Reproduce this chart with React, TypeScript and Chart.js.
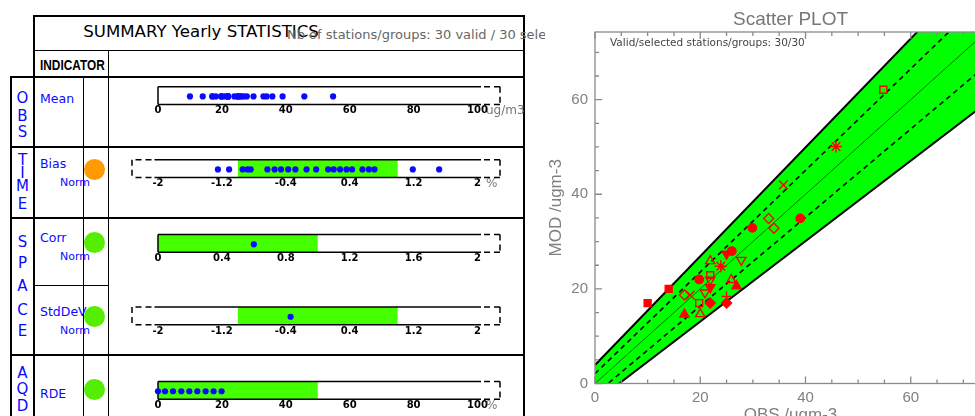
import React, { useEffect, useRef } from "react";
import { Chart, registerables } from "chart.js";

Chart.register(...registerables);

// ---------------- DATA ----------------
// Scatter: station yearly means (observed vs modelled)
const obsValues = [10, 14, 17, 18.1, 17, 19.8, 19.8, 20, 21.9, 21.9, 21.9, 21.9, 20.9, 21.9, 23.9, 25, 26, 25.9, 26.9, 25, 25, 27.8, 29.9, 33, 34, 39, 35.8, 45.8, 54.8];
const modValues = [17, 20, 18.7, 18.7, 14.6, 22, 17, 14.7, 25.9, 22.9, 21.9, 20.3, 19.2, 17, 24.8, 27.4, 28, 21.9, 20.6, 18.4, 17, 26.1, 32.9, 34.9, 32.8, 34.9, 42, 50.1, 62.1];
const markerShapes = ["rect", "rect", "rectRot", "crossRot", "triangle", "circle", "rect", "triangle", "triangle", "rect", "triangleDown", "triangleDown", "triangleDown", "rectRot", "star", "triangleDown", "circle", "triangle", "triangle", "cross", "rectRot", "triangleDown", "circle", "rectRot", "rectRot", "circle", "crossRot", "star", "rect"];
const markerFilled = [1, 1, 0, 0, 1, 1, 0, 0, 0, 0, 0, 1, 0, 1, 0, 1, 1, 0, 1, 0, 1, 0, 1, 0, 0, 1, 0, 0, 0];

// Target bands of the scatter plot (end points of the straight limits)
const bandX = [0, 80];
const outerUpperY = [3.9, 95.9];
const outerLowerY = [-3.9, 64.1];
const innerUpperY = [2.1, 88.0];
const innerLowerY = [-2.3, 72.5];
const identityY = [0, 80];

const scatterMajorTicks = [0, 20, 40, 60];
const scatterMajorLabels = ["0", "20", "40", "60"];

// Summary statistics rows
const meanTickValues = [0, 20, 40, 60, 80, 100];
const meanTickLabels = ["0", "20", "40", "60", "80", "100"];
const normTickValues = [-2, -1.2, -0.4, 0.4, 1.2, 2];
const normTickLabels = ["-2", "-1.2", "-0.4", "0.4", "1.2", "2"];
const corrTickValues = [0, 0.4, 0.8, 1.2, 1.6, 2];
const corrTickLabels = ["0", "0.4", "0.8", "1.2", "1.6", "2"];
const rdeTickValues = [0, 20, 40, 60, 80, 100];
const rdeTickLabels = ["0", "20", "40", "60", "80", "100"];

const biasNormValues = [-1.25, -1.11, -0.94, -0.88, -0.84, -0.63, -0.54, -0.46, -0.37, -0.28, -0.14, -0.02, 0.13, 0.2, 0.28, 0.36, 0.43, 0.56, 0.64, 0.71, 1.19, 1.52];
const corrNormValues = [0.6];
const stdDevNormValues = [-0.34];
const rdeValues = [0, 2.2, 4.7, 7.3, 9.8, 12.3, 14.9, 17.4, 19.9];

const biasTarget = [-1, 1];
const corrTarget = [0, 1];
const stdDevTarget = [-1, 1];
const rdeTarget = [0, 50];

// ---------------- STYLE ----------------
const FONT = "DejaVu Sans";
const BLUE = "#0a0aff";
const BAR_GREEN = "#44ff00";
const CIRCLE_GREEN = "#55ee00";
const ORANGE = "#ff9a00";
const BAND_GREEN = "#00ff00";
const RED = "#ff0000";
const AXIS_COLOR = "#8a8a8a";
const TEXT_GREY = "#808080";

const MINI_LEFT = 110;
const MINI_W = 420;
const MINI_H = 42;
const AXIS_LEFT = 158;
const AXIS_RIGHT = 477.5;
const BOX_H = 17.7;
const DOT_Y = 0.45;

const ROWS = [
  { key: "mean", boxTop: 86.7, min: 0, max: 100, tickValues: meanTickValues, tickLabels: meanTickLabels, values: obsValues, band: null, leftDashed: false, unit: "ug/m3" },
  { key: "bias", boxTop: 159.7, min: -2, max: 2, tickValues: normTickValues, tickLabels: normTickLabels, values: biasNormValues, band: biasTarget, leftDashed: true, unit: "%" },
  { key: "corr", boxTop: 234.6, min: 0, max: 2, tickValues: corrTickValues, tickLabels: corrTickLabels, values: corrNormValues, band: corrTarget, leftDashed: false, unit: "" },
  { key: "std", boxTop: 307, min: -2, max: 2, tickValues: normTickValues, tickLabels: normTickLabels, values: stdDevNormValues, band: stdDevTarget, leftDashed: true, unit: "" },
  { key: "rde", boxTop: 381.5, min: 0, max: 100, tickValues: rdeTickValues, tickLabels: rdeTickLabels, values: rdeValues, band: rdeTarget, leftDashed: false, unit: "%" },
];

const summaryBoxPlugin = {
  id: "summaryBox",
  beforeDatasetsDraw(chart: any, _args: any, opts: any) {
    const { ctx, chartArea: a } = chart;
    const x = chart.scales.x;
    const px = (v: number) => x.getPixelForValue(v);
    const x0 = px(x.min);
    const x1 = px(x.max);
    ctx.save();
    if (opts.band) {
      const b0 = px(opts.band[0]);
      const b1 = px(opts.band[1]);
      ctx.fillStyle = BAR_GREEN;
      ctx.fillRect(b0, a.top, b1 - b0, a.bottom - a.top);
    }
    ctx.strokeStyle = "#000";
    ctx.lineWidth = 1.5;
    const seg = (xa: number, ya: number, xb: number, yb: number) => {
      ctx.beginPath();
      ctx.moveTo(xa, ya);
      ctx.lineTo(xb, yb);
      ctx.stroke();
    };
    const sL = opts.leftDashed ? x0 - 3.5 : x0;
    const sR = x1 + 3.5;
    const dR = x1 + 22.5;
    const dL = x0 - 26;
    ctx.setLineDash([]);
    seg(sL, a.top, sR, a.top);
    seg(sL, a.bottom, sR, a.bottom);
    if (!opts.leftDashed) seg(x0, a.top, x0, a.bottom);
    ctx.setLineDash([6, 4]);
    ctx.lineDashOffset = 7;
    seg(sR, a.top, dR, a.top);
    seg(sR, a.bottom, dR, a.bottom);
    if (opts.leftDashed) {
      seg(sL, a.top, dL, a.top);
      seg(sL, a.bottom, dL, a.bottom);
    }
    ctx.lineDashOffset = 0;
    seg(dR, a.top, dR, a.bottom);
    if (opts.leftDashed) seg(dL, a.top, dL, a.bottom);
    ctx.restore();
  },
  afterDraw(chart: any, _args: any, opts: any) {
    if (!opts.unit) return;
    const { ctx, chartArea: a } = chart;
    const x = chart.scales.x;
    ctx.save();
    ctx.fillStyle = "#777";
    ctx.font = `12px "${FONT}"`;
    ctx.textBaseline = "middle";
    ctx.fillText(opts.unit, x.getPixelForValue(x.max) + 8.5, a.bottom + 6.3);
    ctx.restore();
  },
};

function MiniBar({ row }: { row: any }) {
  const ref = useRef<HTMLCanvasElement>(null);
  const canvasTop = Math.floor(row.boxTop) - 6;
  const padTop = row.boxTop - canvasTop;
  useEffect(() => {
    const chart = new Chart(ref.current as HTMLCanvasElement, {
      type: "scatter",
      data: {
        datasets: [
          {
            data: row.values.map((v: number) => ({ x: v, y: DOT_Y })),
            pointRadius: 3.1,
            pointBackgroundColor: BLUE,
            pointBorderWidth: 0,
            clip: false,
          } as any,
        ],
      },
      options: {
        responsive: false,
        animation: false,
        devicePixelRatio: 1,
        events: [],
        layout: { padding: { left: AXIS_LEFT - MINI_LEFT, right: MINI_LEFT + MINI_W - AXIS_RIGHT, top: padTop, bottom: 0 } },
        plugins: {
          legend: { display: false },
          tooltip: { enabled: false },
          summaryBox: { band: row.band, leftDashed: row.leftDashed, unit: row.unit },
        } as any,
        scales: {
          x: {
            type: "linear",
            min: row.min,
            max: row.max,
            grid: { display: false, drawTicks: false },
            border: { display: false },
            afterBuildTicks: (s: any) => {
              s.ticks = row.tickValues.map((v: number) => ({ value: v }));
            },
            afterFit: (s: any) => {
              s.height = MINI_H - padTop - BOX_H;
              s.paddingLeft = 0;
              s.paddingRight = 0;
            },
            ticks: {
              autoSkip: false,
              maxRotation: 0,
              minRotation: 0,
              padding: 0.5,
              color: "#000",
              font: { family: FONT, size: 10, weight: "bold" },
              callback: (_v: any, i: number) => row.tickLabels[i],
            },
          },
          y: { type: "linear", display: false, min: 0, max: 1 },
        },
      } as any,
      plugins: [summaryBoxPlugin as any],
    });
    return () => chart.destroy();
  }, []);
  return (
    <canvas
      ref={ref}
      width={MINI_W}
      height={MINI_H}
      style={{ position: "absolute", left: MINI_LEFT, top: canvasTop, width: MINI_W, height: MINI_H }}
    />
  );
}

const T = ({ x, y, size, color = "#000", family = FONT, weight = "normal", center = false, scaleX = 1, children }: any) => (
  <div
    style={{
      position: "absolute",
      left: x,
      top: y - 0.485 * size,
      fontSize: size,
      lineHeight: `${size}px`,
      fontFamily: family,
      fontWeight: weight,
      color,
      whiteSpace: "nowrap",
      transform: center ? "translateX(-50%)" : `scaleX(${scaleX})`,
      transformOrigin: "left center",
    }}
  >
    {children}
  </div>
);

const H_LINES = [
  [16, 34, 524],
  [50.5, 34, 524],
  [77, 11, 524],
  [147, 11, 524],
  [218, 11, 524],
  [285.5, 34, 108.3],
  [355, 11, 524],
];
const V_LINES = [
  [11, 77, 416],
  [34, 16, 416],
  [83.3, 77, 416],
  [108.3, 50.5, 416],
  [524, 16, 416],
];
const LW = 1.6;

const GROUP_LETTERS = [
  ["O", 98.5], ["B", 116], ["S", 132],
  ["T", 160], ["I", 173], ["M", 186.5], ["E", 204.5],
  ["S", 242], ["P", 263], ["A", 286], ["C", 310], ["E", 331],
  ["A", 373], ["Q", 389.5], ["D", 406],
];

const ROW_LABELS = [
  ["Mean", 99.3], ["Bias", 164.5], ["Corr", 238.5], ["StdDeV", 312.5], ["RDE", 394.3],
];
const NORM_LABELS = [182.5, 256.5, 330.8];
const CIRCLES = [
  [169.5, ORANGE], [242.3, CIRCLE_GREEN], [316, CIRCLE_GREEN], [389.5, CIRCLE_GREEN],
];

function Summary() {
  return (
    <div style={{ position: "absolute", left: 0, top: 0, width: 545, height: 416, overflow: "hidden" }}>
      {H_LINES.map(([y, x0, x1], i) => (
        <div key={"h" + i} style={{ position: "absolute", left: x0 - LW / 2, top: y - LW / 2, width: x1 - x0 + LW, height: LW, background: "#000" }} />
      ))}
      {V_LINES.map(([x, y0, y1], i) => (
        <div key={"v" + i} style={{ position: "absolute", left: x - LW / 2, top: y0 - LW / 2, width: LW, height: y1 - y0 + LW, background: "#000" }} />
      ))}
      <T x={83.3} y={31.8} size={16.6}>SUMMARY Yearly STATISTICS</T>
      <T x={287} y={34} size={13} color="#666">Nb of stations/groups: 30 valid / 30 selected</T>
      <T x={39.5} y={64.2} size={15} weight="bold" family="Liberation Sans" scaleX={0.79}>INDICATOR</T>
      {GROUP_LETTERS.map(([ch, y], i) => (
        <T key={"g" + i} x={22.5} y={y} size={15} color={BLUE} center>{ch}</T>
      ))}
      {ROW_LABELS.map(([txt, y], i) => (
        <T key={"r" + i} x={40} y={y} size={12.5} color={BLUE}>{txt}</T>
      ))}
      {NORM_LABELS.map((y, i) => (
        <T key={"n" + i} x={60} y={y} size={11} color={BLUE}>Norm</T>
      ))}
      {CIRCLES.map(([y, c], i) => (
        <div key={"c" + i} style={{ position: "absolute", left: 94 - 10.5, top: (y as number) - 10.5, width: 21, height: 21, borderRadius: "50%", background: c as string }} />
      ))}
      {ROWS.map((row) => (
        <MiniBar key={row.key} row={row} />
      ))}
    </div>
  );
}

const RADIUS: Record<string, number> = { rect: 4.9, rectRot: 5, circle: 4.2, triangle: 5.3, triangleDown: 5.3, star: 6, crossRot: 6.2, cross: 5 };
const NOTE = "Valid/selected stations/groups: 30/30";

const axisFramePlugin = {
  id: "axisFrame",
  afterDraw(chart: any) {
    const { ctx, chartArea: a } = chart;
    const { x, y } = chart.scales;
    ctx.save();
    ctx.strokeStyle = AXIS_COLOR;
    ctx.lineWidth = 1.3;
    ctx.strokeRect(a.left, a.top, a.right - a.left, a.bottom - a.top);
    ctx.beginPath();
    x.ticks.forEach((t: any) => {
      const p = x.getPixelForValue(t.value);
      const len = scatterMajorTicks.includes(t.value) ? 7 : 4;
      ctx.moveTo(p, a.bottom);
      ctx.lineTo(p, a.bottom - len);
      ctx.moveTo(p, a.top);
      ctx.lineTo(p, a.top + len);
    });
    y.ticks.forEach((t: any) => {
      const p = y.getPixelForValue(t.value);
      const len = scatterMajorTicks.includes(t.value) ? 7 : 4;
      ctx.moveTo(a.left, p);
      ctx.lineTo(a.left + len, p);
      ctx.moveTo(a.right, p);
      ctx.lineTo(a.right - len, p);
    });
    ctx.stroke();
    ctx.fillStyle = "#444";
    ctx.font = `10.5px "${FONT}"`;
    ctx.textBaseline = "middle";
    ctx.fillText(NOTE, a.left + 15, a.top + 11.5);
    ctx.restore();
  },
};

function ScatterPlot() {
  const ref = useRef<HTMLCanvasElement>(null);
  useEffect(() => {
    const points = obsValues.map((o, i) => ({ x: o, y: modValues[i] }));
    const lineData = (ys: number[]) => bandX.map((x, i) => ({ x, y: ys[i] }));
    const labelFor = (v: number) => {
      const i = scatterMajorTicks.indexOf(v);
      return i >= 0 ? scatterMajorLabels[i] : "";
    };
    const chart = new Chart(ref.current as HTMLCanvasElement, {
      type: "scatter",
      data: {
        datasets: [
          {
            data: points,
            pointStyle: markerShapes.map((s) => (s === "triangleDown" ? "triangle" : s)),
            pointRotation: markerShapes.map((s) => (s === "triangleDown" ? 180 : 0)),
            pointRadius: markerShapes.map((s) => RADIUS[s]),
            pointBackgroundColor: markerFilled.map((f) => (f ? RED : "rgba(0,0,0,0)")),
            pointBorderColor: RED,
            pointBorderWidth: 1.4,
          } as any,
          { type: "line", data: lineData(identityY), borderColor: "rgba(0,0,0,0.55)", borderWidth: 1, pointRadius: 0, fill: false } as any,
          { type: "line", data: lineData(innerUpperY), borderColor: "#000", borderWidth: 1.6, borderDash: [5, 4], pointRadius: 0, fill: false } as any,
          { type: "line", data: lineData(innerLowerY), borderColor: "#000", borderWidth: 1.6, borderDash: [5, 4], pointRadius: 0, fill: false } as any,
          { type: "line", data: lineData(outerUpperY), borderColor: "#000", borderWidth: 2, pointRadius: 0, fill: "+1", backgroundColor: BAND_GREEN } as any,
          { type: "line", data: lineData(outerLowerY), borderColor: "#000", borderWidth: 2, pointRadius: 0, fill: false } as any,
        ],
      },
      options: {
        responsive: false,
        animation: false,
        devicePixelRatio: 1,
        events: [],
        layout: { padding: { left: 0, right: 29, top: 0, bottom: 0 } },
        plugins: {
          legend: { display: false },
          tooltip: { enabled: false },
          filler: { drawTime: "beforeDatasetsDraw" },
          title: {
            display: true,
            text: "Scatter PLOT",
            fullSize: false,
            color: "#777",
            font: { family: "Liberation Sans", size: 19, weight: "normal" },
            padding: { top: 8.3, bottom: 0.9 },
          },
        } as any,
        scales: {
          x: {
            type: "linear",
            min: 0,
            max: 74.3,
            grid: { display: false, drawTicks: false },
            border: { display: false },
            ticks: {
              stepSize: 5,
              includeBounds: false,
              autoSkip: false,
              maxRotation: 0,
              minRotation: 0,
              padding: 5,
              color: TEXT_GREY,
              font: { family: "Liberation Sans", size: 15 },
              callback: (v: any) => labelFor(v),
            },
            title: {
              display: true,
              text: "OBS /ugm-3",
              color: TEXT_GREY,
              font: { family: "Liberation Sans", size: 17 },
              padding: { top: 0, bottom: 0 },
            },
            afterFit: (s: any) => {
              s.height = 42.5;
              s.paddingLeft = 0;
              s.paddingRight = 0;
            },
          },
          y: {
            type: "linear",
            min: 0,
            max: 74.3,
            grid: { display: false, drawTicks: false },
            border: { display: false },
            ticks: {
              stepSize: 5,
              includeBounds: false,
              autoSkip: false,
              padding: 7,
              color: TEXT_GREY,
              font: { family: "Liberation Sans", size: 15 },
              callback: (v: any) => labelFor(v),
            },
            title: {
              display: true,
              text: "MOD /ugm-3",
              color: TEXT_GREY,
              font: { family: "Liberation Sans", size: 17 },
              padding: { top: 1, bottom: 0 },
            },
            afterFit: (s: any) => {
              s.width = 50;
              s.paddingTop = 0;
              s.paddingBottom = 0;
            },
          },
        },
      } as any,
      plugins: [axisFramePlugin as any],
    });
    return () => chart.destroy();
  }, []);
  return (
    <canvas ref={ref} width={470} height={426} style={{ position: "absolute", left: 545, top: 0, width: 470, height: 426 }} />
  );
}

export default function App() {
  return (
    <div style={{ position: "fixed", left: 0, top: 0, width: 975, height: 416, overflow: "hidden", background: "#fff" }}>
      <Summary />
      <ScatterPlot />
    </div>
  );
}
